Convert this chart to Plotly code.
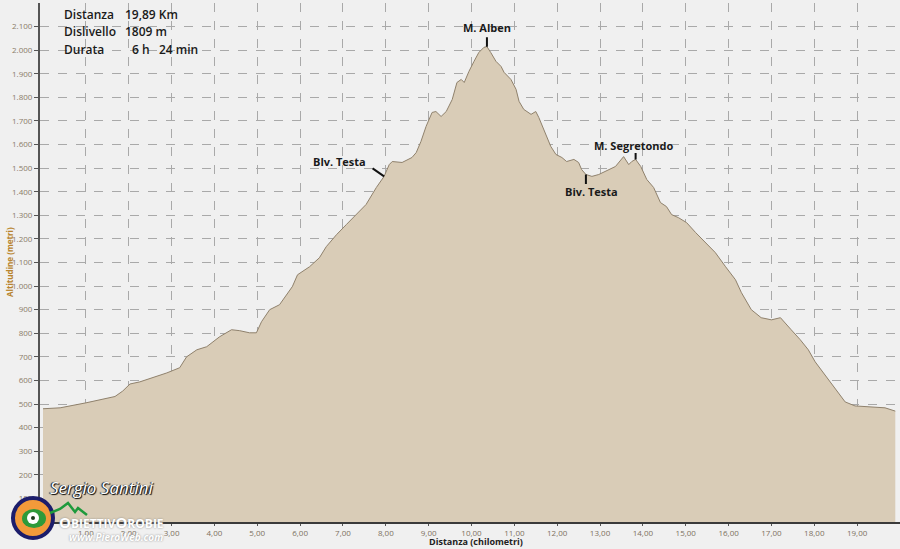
import plotly.graph_objects as go

# ---- data ----
distance_km = [0.00, 0.40, 1.00, 1.33, 1.68, 1.86, 2.03, 2.26, 2.49, 2.89, 3.19, 3.35, 3.59, 3.82,
               4.12, 4.40, 4.59, 4.82, 4.98, 5.10, 5.29, 5.52, 5.82, 5.94, 6.22, 6.45, 6.61, 6.85,
               7.08, 7.31, 7.54, 7.78, 7.96, 8.08, 8.15, 8.38, 8.61, 8.71, 8.82, 8.94, 9.08, 9.17,
               9.29, 9.41, 9.55, 9.66, 9.76, 9.83, 9.94, 10.06, 10.17, 10.29, 10.36, 10.45, 10.57,
               10.69, 10.76, 10.92, 11.04, 11.11, 11.22, 11.39, 11.50, 11.57, 11.69, 11.85, 11.97,
               12.11, 12.22, 12.39, 12.50, 12.57, 12.67, 12.81, 12.97, 13.13, 13.36, 13.55, 13.67,
               13.74, 13.83, 13.95, 14.09, 14.25, 14.41, 14.55, 14.67, 14.83, 15.02, 15.23, 15.46,
               15.69, 15.93, 16.16, 16.30, 16.53, 16.76, 17.00, 17.21, 17.32, 17.46, 17.67, 17.86,
               18.02, 18.25, 18.49, 18.72, 18.95, 19.25, 19.65, 19.89]
altitude_m = [480, 484, 505, 518, 532, 555, 585, 594, 607, 632, 654, 700, 730, 743,
              785, 815, 811, 802, 802, 849, 900, 921, 998, 1048, 1082, 1120, 1167, 1218,
              1261, 1303, 1346, 1418, 1465, 1515, 1528, 1524, 1545, 1566, 1613, 1677, 1736, 1740,
              1719, 1740, 1791, 1863, 1876, 1863, 1910, 1953, 1990, 2012, 2015, 1990, 1953,
              1931, 1906, 1876, 1834, 1783, 1749, 1728, 1740, 1715, 1664, 1592, 1558,
              1545, 1528, 1537, 1524, 1494, 1473, 1465, 1473, 1486, 1507, 1549, 1515,
              1528, 1537, 1507, 1452, 1418, 1354, 1337, 1303, 1290, 1269, 1227, 1184,
              1142, 1082, 1027, 972, 900, 866, 857, 866, 845, 815, 773, 730,
              679, 624, 569, 509, 492, 488, 484, 470]

x_ticks = list(range(1, 21))
y_ticks = list(range(100, 2200, 100))

# labelled points (index into the arrays)
peaks = [
    {"name": "M. Alben", "idx": 52},
    {"name": "Blv. Testa", "idx": 32},
    {"name": "Biv. Testa", "idx": 72},
    {"name": "M. Segretondo", "idx": 80},
]

info_labels = ["Distanza", "Dislivello", "Durata"]
info_values = ["19,89 Km", "1809 m", "6 h   24 min"]

# ---- layout geometry (pixels) ----
W, H = 900, 549
L, R, T, B = 40, 0, 3, 27
PW, PH = W - L - R, H - T - B


def px(x):
    return (x - L) / PW


def py(y):
    return (H - B - y) / PH


def note(fig, text, x, y, xanchor="center", **kw):
    fig.add_annotation(text=text, xref="paper", yref="paper", x=px(x), y=py(y),
                       xanchor=xanchor, yanchor="middle", showarrow=False, **kw)


FONT = "Open Sans"
fig = go.Figure()
fig.add_trace(go.Scatter(
    x=distance_km, y=altitude_m, mode="lines", fill="tozeroy",
    fillcolor="#d9ccb7", line=dict(color="#8f816c", width=1),
    hoverinfo="skip", showlegend=False))

fig.update_layout(
    width=W, height=H, margin=dict(l=L, r=R, t=T, b=B),
    paper_bgcolor="#f0f0f0", plot_bgcolor="#f0f0f0",
    separators=",.",
    font=dict(family=FONT, size=9, color="#8a7c68"),
    showlegend=False,
)
fig.update_xaxes(
    range=[-0.07, 20.0], tickvals=x_ticks, tickformat=".2f",
    showgrid=True, gridcolor="#a9a9a9", griddash="dash", gridwidth=1,
    showline=True, linecolor="#3a3a3a", linewidth=2,
    ticks="outside", ticklen=2, tickcolor="#555", tickfont=dict(size=8, color="#7d715f"),
    automargin=False, zeroline=False,
)
fig.update_yaxes(
    range=[0, 2200], tickvals=y_ticks, tickformat=",d",
    showgrid=True, gridcolor="#a9a9a9", griddash="dash", gridwidth=1,
    showline=True, linecolor="#555555", linewidth=2,
    ticks="outside", ticklen=4, tickcolor="#555", tickfont=dict(size=8, color="#8a7c68"),
    automargin=False, zeroline=False,
)

# axis titles
note(fig, "Altitudine (metri)", 9, 262, textangle=-90,
     font=dict(size=8, color="#b8842e", family=FONT, weight="bold"))
note(fig, "Distanza (chilometri)", 476, 541,
     font=dict(size=9, color="#222222", family=FONT, weight="bold"))

# info block
for i, (lab, val) in enumerate(zip(info_labels, info_values)):
    yy = 15 + i * 17
    note(fig, lab, 62, yy, xanchor="left",
         font=dict(size=12, color="#1a1a1a", family=FONT, weight=600))
    note(fig, val, 123 if i < 2 else 130, yy, xanchor="left",
         font=dict(size=12, color="#1a1a1a", family=FONT, weight=600))

# peak labels
label_font = dict(size=11, color="#1a1a1a", family=FONT, weight="bold")
offsets = {  # (text dx, text dy, tick ax, tick ay) in pixels
    "M. Alben": (0, -19, 0, -11),
    "Blv. Testa": (-45, -15, -13, -9),
    "Biv. Testa": (6, 17, 0, 11),
    "M. Segretondo": (-2, -14, 0, -8),
}
for p in peaks:
    xk, yk = distance_km[p["idx"]], altitude_m[p["idx"]]
    dx, dy, ax, ay = offsets[p["name"]]
    fig.add_annotation(x=xk, y=yk, text="", showarrow=True, arrowhead=0,
                       arrowwidth=2, arrowcolor="#111", ax=ax, ay=ay, standoff=0)
    fig.add_annotation(x=xk, y=yk, text=p["name"], showarrow=False,
                       xshift=dx, yshift=-dy, font=label_font)

# signature
note(fig, "<i>Sergio Santini</i>", 48, 487, xanchor="left",
     font=dict(size=17, color="white", family=FONT,
               shadow="1px 1px 1px #000, -1px 0px 1px #000"))

# logo (approximation)
cx, cy, r = 33, 518, 20
fig.add_shape(type="circle", xref="paper", yref="paper",
              x0=px(cx - r), x1=px(cx + r), y0=py(cy + r), y1=py(cy - r),
              fillcolor="#f29a3a", line=dict(color="#1c1d6b", width=4), layer="above")
fig.add_shape(type="circle", xref="paper", yref="paper",
              x0=px(cx - 11), x1=px(cx + 13), y0=py(cy + 10), y1=py(cy - 9),
              fillcolor="#2e9a3a", line=dict(width=0), layer="above")
fig.add_shape(type="circle", xref="paper", yref="paper",
              x0=px(cx - 6), x1=px(cx + 6), y0=py(cy + 6), y1=py(cy - 6),
              fillcolor="white", line=dict(width=0), layer="above")
fig.add_shape(type="circle", xref="paper", yref="paper",
              x0=px(cx - 2), x1=px(cx + 2), y0=py(cy + 2), y1=py(cy - 2),
              fillcolor="#1c3a1c", line=dict(width=0), layer="above")
path_pts = [(50, 513), (60, 509), (68, 503), (75, 512), (78, 508), (87, 515)]
path = "M " + " L ".join(f"{px(a)},{py(b)}" for a, b in path_pts)
fig.add_shape(type="path", xref="paper", yref="paper", path=path,
              line=dict(color="#1e9a3c", width=2.5), layer="above")
note(fig, "O<span style='font-size:12px'>BIETTIV</span>O<span style='font-size:12px'>ROBIE</span>",
     57, 522, xanchor="left",
     font=dict(size=15, color="white", family=FONT, weight="bold", shadow="0px 0px 2px #888"))
note(fig, "<i>www.PieroWeb.com</i>", 67, 537, xanchor="left",
     font=dict(size=10, color="white", family=FONT, weight="bold", shadow="0px 0px 2px #888"))

fig.write_html("out.html", config={"displayModeBar": False},
               post_script="document.body.style.margin='0';document.body.style.overflow='hidden';")
